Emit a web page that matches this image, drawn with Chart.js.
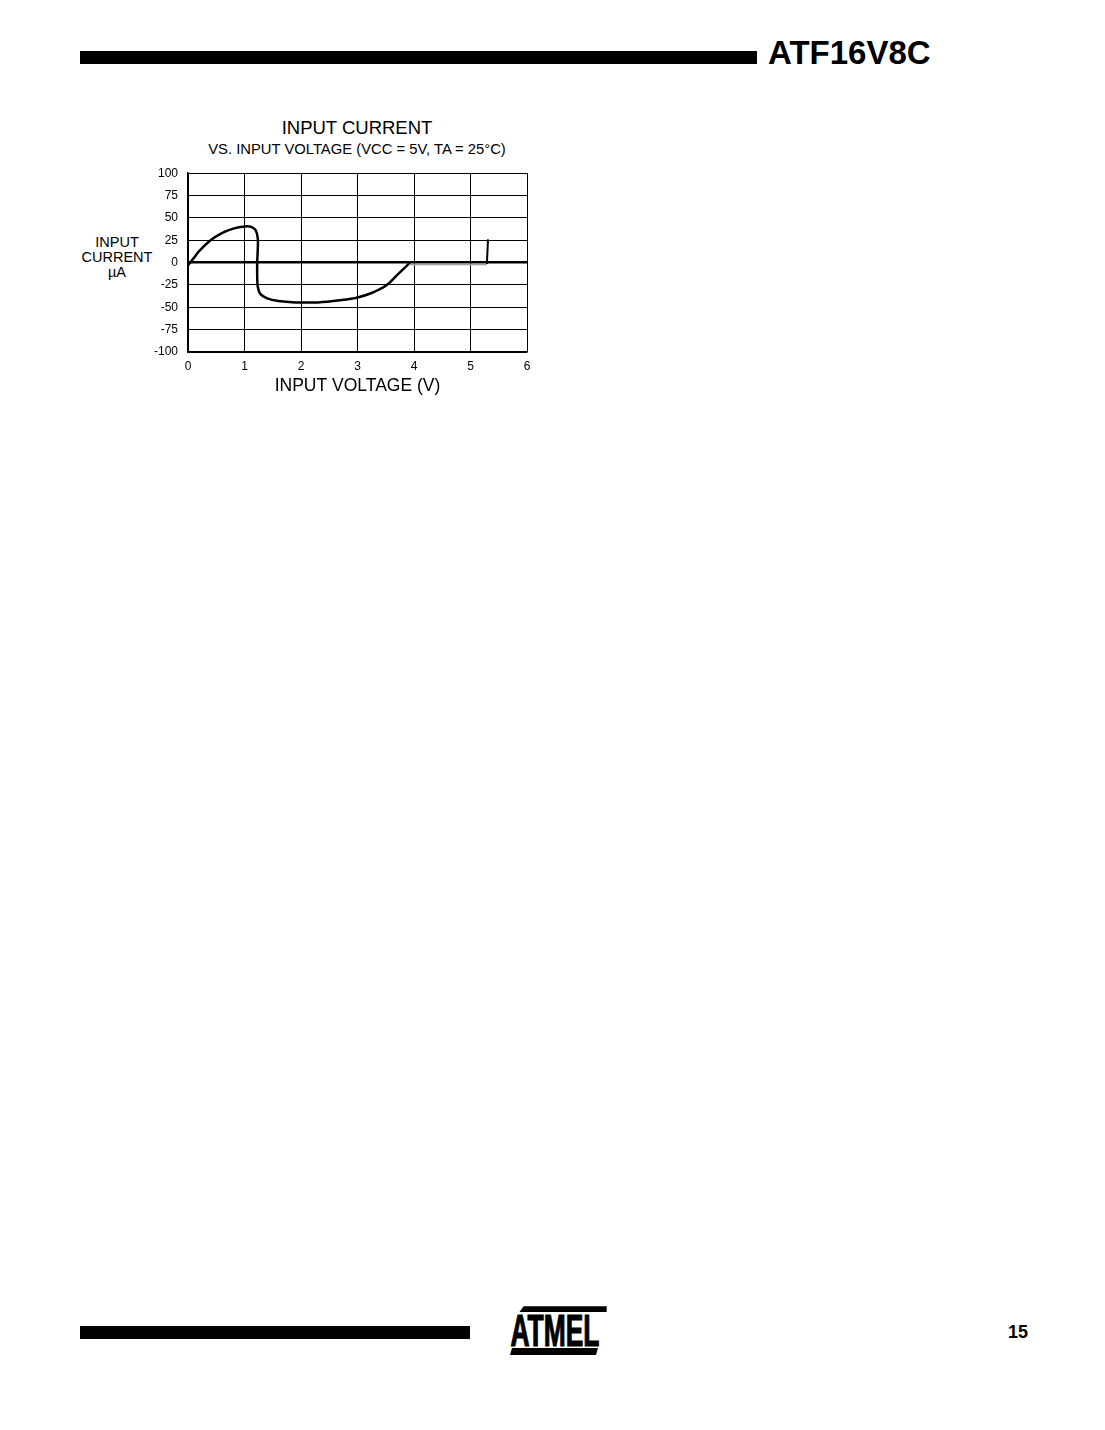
<!DOCTYPE html>
<html>
<head>
<meta charset="utf-8">
<script src="https://cdn.jsdelivr.net/npm/chart.js@4.4.1/dist/chart.umd.min.js"></script>
<style>
  body { margin: 0; background: #fff; font-family: "Liberation Sans", Arial, sans-serif; color: #000; }
  #page { position: relative; width: 1105px; height: 1430px; overflow: hidden; }
  .abs { position: absolute; white-space: nowrap; }
  .bar { position: absolute; background: #000; }
  .center { transform: translateX(-50%); text-align: center; }
</style>
</head>
<body>
<div id="page">
  <div class="bar" style="left:80px; top:51px; width:677px; height:13px;"></div>
  <div class="abs" style="left:768px; top:35.5px; font-size:33px; line-height:33px; font-weight:bold;">ATF16V8C</div>

  <div class="abs center" style="left:357px; top:119.3px; font-size:18.5px; line-height:18.5px;">INPUT CURRENT</div>
  <div class="abs center" style="left:357px; top:141.8px; font-size:14.8px; line-height:14.8px;">VS. INPUT VOLTAGE (VCC = 5V, TA = 25°C)</div>

  <div class="abs center" style="left:117px; top:234.7px; font-size:14.5px; line-height:14.5px;">INPUT</div>
  <div class="abs center" style="left:117px; top:250px; font-size:14.5px; line-height:14.5px;">CURRENT</div>
  <div class="abs center" style="left:117px; top:264.7px; font-size:14.5px; line-height:14.5px;">µA</div>

  <div style="position:absolute; left:130px; top:156px; width:420px; height:249px;">
    <canvas id="ivChart"></canvas>
  </div>

  <div class="bar" style="left:80px; top:1326px; width:390px; height:13px;"></div>
  <svg class="abs" style="left:490px; top:1290px;" width="220" height="80" viewBox="490 1290 220 80">
    <polygon points="523.5,1306.3 606.7,1306.3 606.7,1312 519.5,1312" fill="#000"/>
    <text x="510.5" y="1346.3" font-family="Liberation Sans Narrow, Liberation Sans, Arial" font-weight="bold"
          font-size="45" textLength="89" lengthAdjust="spacingAndGlyphs" fill="#000"
          stroke="#000" stroke-width="1.2">ATMEL</text>
    <polygon points="512,1348 598,1348 596,1355 510,1355" fill="#000"/>
  </svg>
  <div class="abs" style="left:1008px; top:1322.7px; font-size:18px; line-height:18px; font-weight:bold;">15</div>
</div>

<script>
// tick values
const xTicks = [0, 1, 2, 3, 4, 5, 6];
const yTicks = [-100, -75, -50, -25, 0, 25, 50, 75, 100];

// main curve
const curveVolts   = [0, 0.1, 0.2, 0.4, 0.6, 0.8, 1.0, 1.12, 1.2, 1.235, 1.235, 1.225, 1.225, 1.235, 1.28, 1.4, 1.6, 1.9, 2.3, 2.7, 3.0, 3.25, 3.5, 3.7, 3.92];
const curveCurrent = [-3, 5, 13, 25, 33, 38, 40.5, 40, 36, 27, 15, 0, -15, -27, -35, -40, -43, -44.5, -44.5, -42, -39, -34, -26, -14, -0.5];

// flat part after 3.9 V (just under the zero line) and the jump near 5.3 V
const flatVolts   = [3.92, 5.29];
const flatCurrent = [-2, -2];
const jumpVolts   = [5.29, 5.31];
const jumpCurrent = [-1.5, 26];

const toPoints = (xs, ys) => xs.map((x, i) => ({ x: x, y: ys[i] }));

Chart.defaults.font.family = '"Liberation Sans", Arial, sans-serif';
Chart.defaults.color = "#000";

new Chart(document.getElementById("ivChart"), {
  type: "scatter",
  data: {
    datasets: [
      {
        data: toPoints(flatVolts, flatCurrent),
        showLine: true,
        borderColor: "#a0a0a0",
        borderWidth: 1.5,
        pointRadius: 0,
        tension: 0,
      },
      {
        data: toPoints(curveVolts, curveCurrent),
        showLine: true,
        borderColor: "#000",
        borderWidth: 2.5,
        pointRadius: 0,
        tension: 0.35,
        borderCapStyle: "round",
        borderJoinStyle: "round",
      },
      {
        data: toPoints(jumpVolts, jumpCurrent),
        showLine: true,
        borderColor: "#000",
        borderWidth: 2,
        pointRadius: 0,
        tension: 0,
      },
    ],
  },
  options: {
    responsive: true,
    maintainAspectRatio: false,
    animation: false,
    // y tick padding also pads the top of the chart area, so top padding is 0
    layout: { padding: { left: 8, right: 23, top: 0, bottom: 8 } },
    plugins: {
      legend: { display: false },
      tooltip: { enabled: false },
    },
    scales: {
      x: {
        type: "linear",
        min: 0,
        max: 6,
        afterBuildTicks: (axis) => { axis.ticks = xTicks.map((v) => ({ value: v })); },
        afterFit: (axis) => { axis.height = 45; },
        ticks: { padding: 7, font: { size: 12 }, maxRotation: 0 },
        grid: { color: "#000", lineWidth: 1, drawTicks: false },
        border: { color: "#000", width: 1.5 },
        title: {
          display: true,
          text: "INPUT VOLTAGE (V)",
          font: { size: 17.5 },
          padding: { top: 0, bottom: 0 },
        },
      },
      y: {
        type: "linear",
        min: -100,
        max: 100,
        afterBuildTicks: (axis) => { axis.ticks = yTicks.map((v) => ({ value: v })); },
        afterFit: (axis) => { axis.width = 50; },
        ticks: { padding: 10, font: { size: 12 } },
        grid: {
          color: "#000",
          lineWidth: (ctx) => (ctx.tick && ctx.tick.value === 0 ? 2.5 : 1),
          drawTicks: false,
        },
        border: { color: "#000", width: 1.5 },
      },
    },
  },
});
</script>
</body>
</html>
